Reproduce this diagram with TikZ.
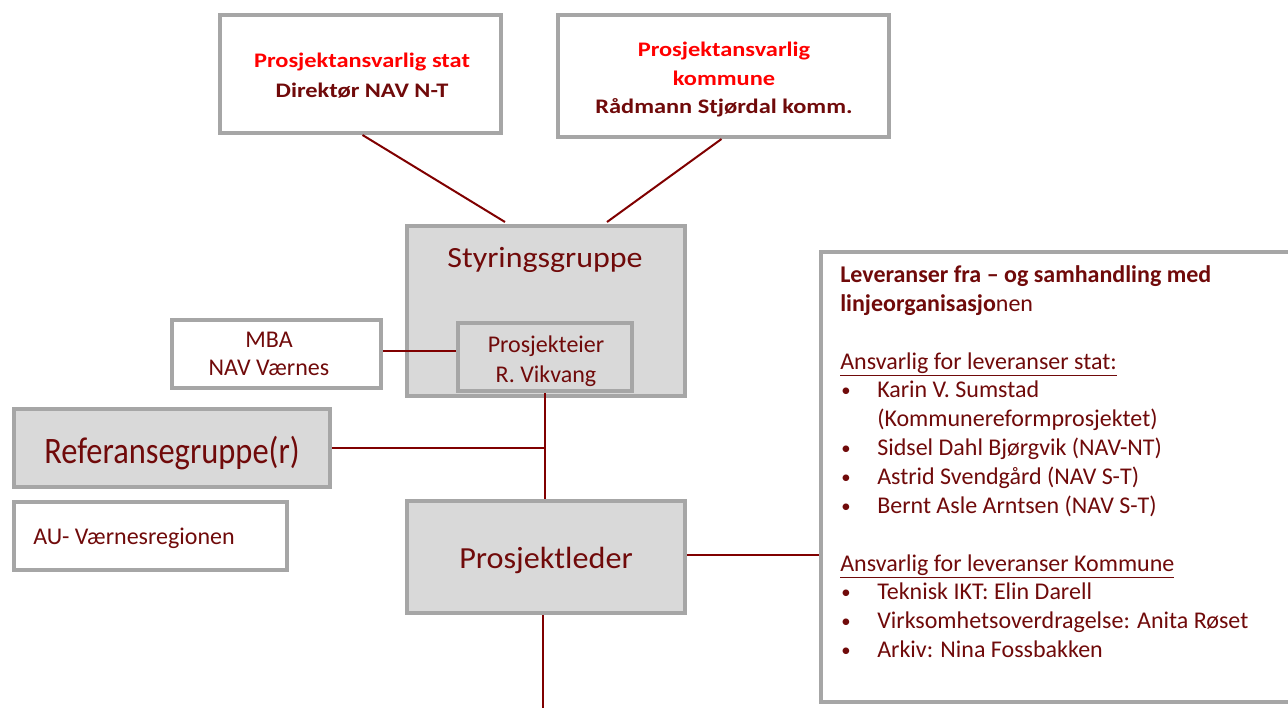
\documentclass[tikz,border=0pt]{standalone}
\usepackage{fontspec}
\setmainfont{Carlito}
\newfontfamily\topfont{Carlito}[FakeStretch=1.18]
\newfontfamily\styfont{Carlito}[FakeStretch=1.09]
\newfontfamily\reffont{Carlito}[FakeStretch=0.87]
\newfontfamily\plfont{Carlito}[FakeStretch=1.05]
\usetikzlibrary{calc}
\definecolor{dred}{RGB}{112,10,10}
\definecolor{lred}{RGB}{128,0,0}
\definecolor{bgray}{RGB}{166,166,166}
\definecolor{fgray}{RGB}{217,217,217}
\begin{document}
\begin{tikzpicture}[x=0.75pt,y=-0.75pt,
  box/.style={draw=bgray,line width=3pt,fill=white,rectangle,inner sep=0pt},
  gbox/.style={box,fill=fgray},
  conn/.style={draw=lred,line width=1.5pt},
  txt/.style={inner sep=0pt,text=dred,anchor=base},
  toptxt/.style={txt,font=\topfont\bfseries\fontsize{15.5}{18}\selectfont},
  midtxt/.style={txt,font=\fontsize{18}{21}\selectfont},
  ltxt/.style={inner sep=0pt,text=dred,anchor=base west,font=\fontsize{18}{21}\selectfont},
  bul/.style={inner sep=0pt,text=dred,anchor=base west,font=\fontsize{14}{16}\selectfont},
]
\clip (0,0) rectangle (1288,708);
\fill[white] (0,0) rectangle (1288,708);
% boxes
\node[box,minimum width=281*0.75pt,minimum height=118*0.75pt] (stat) at (360.5,74) {};
\node[box,minimum width=331*0.75pt,minimum height=122*0.75pt] (kom) at (723.5,76) {};
\node[gbox,minimum width=278*0.75pt,minimum height=170*0.75pt] (sty) at (546,311) {};
\node[gbox,minimum width=174*0.75pt,minimum height=68*0.75pt] (pe) at (545,357) {};
\node[box,minimum width=209*0.75pt,minimum height=68*0.75pt] (mba) at (276.5,354) {};
\node[gbox,minimum width=316*0.75pt,minimum height=78*0.75pt] (ref) at (172,448) {};
\node[box,minimum width=273*0.75pt,minimum height=68*0.75pt] (au) at (150.5,536) {};
\node[gbox,minimum width=278*0.75pt,minimum height=112*0.75pt] (pl) at (546,557) {};
\node[box,minimum width=479*0.75pt,minimum height=450*0.75pt] (lev) at (1060.5,477) {};
% texts
\node[toptxt,text=red] (t1) at (362,67) {Prosjektansvarlig stat};
\node[toptxt] (t2) at (362,97) {Direktør NAV N-T};
\node[toptxt,text=red] (t3) at (724,56) {Prosjektansvarlig};
\node[toptxt,text=red] (t4) at (724,85) {kommune};
\node[toptxt] (t5) at (724,113) {Rådmann Stjørdal komm.};
\node[txt,font=\styfont\fontsize{22}{26}\selectfont] (t6) at (545,267) {Styringsgruppe};
\node[midtxt] (t7) at (546,352) {Prosjekteier};
\node[midtxt] (t8) at (546,382) {R. Vikvang};
\node[midtxt] (t9) at (269,347) {MBA};
\node[midtxt] (t10) at (269,375) {NAV Værnes};
\node[txt,font=\reffont\fontsize{28}{32}\selectfont] (t11) at (172,463) {Referansegruppe(r)};
\node[ltxt] (t12) at (33,544) {AU- Værnesregionen};
\node[txt,font=\plfont\fontsize{23}{26}\selectfont] (t13) at (546,568) {Prosjektleder};
% right box lines
\node[ltxt] (r1) at (840,282) {\textbf{Leveranser fra – og samhandling med}};
\node[ltxt] (r2) at (840,311) {\textbf{linjeorganisasjo}nen};
\node[ltxt] (r3) at (840,369) {\underline{Ansvarlig for leveranser stat:}};
\node[bul] (b1) at (841,396) {•};
\node[ltxt] (r4) at (877,397) {Karin V. Sumstad};
\node[ltxt] (r5) at (877,426) {(Kommunereformprosjektet)};
\node[bul] (b2) at (841,454) {•};
\node[ltxt] (r6) at (877,455) {Sidsel Dahl Bjørgvik (NAV-NT)};
\node[bul] (b3) at (841,483) {•};
\node[ltxt] (r7) at (877,484) {Astrid Svendgård (NAV S-T)};
\node[bul] (b4) at (841,512) {•};
\node[ltxt] (r8) at (877,513) {Bernt Asle Arntsen (NAV S-T)};
\node[ltxt] (r9) at (840,571) {\underline{Ansvarlig for leveranser Kommune}};
\node[bul] (b5) at (841,598) {•};
\node[ltxt] (r10) at (877,599) {Teknisk IKT: Elin Darell};
\node[bul] (b6) at (841,627) {•};
\node[ltxt] (r11) at (877,628) {Virksomhetsoverdragelse: Anita Røset};
\node[bul] (b7) at (841,656) {•};
\node[ltxt] (r12) at (877,657) {Arkiv: Nina Fossbakken};
% connectors
\coordinate (endb) at (543,708);
\draw[conn] ($(stat.south)+(2,0)$) -- ($(sty.north)+(-41,-2)$);
\draw[conn] ($(kom.south)+(-2,0)$) -- ($(sty.north)+(61,-2)$);
\draw[conn] ($(mba.east)+(0,-3)$) -- ($(pe.west)+(0,-6)$);
\draw[conn] (pe.south) -- (pe.south |- pl.north);
\draw[conn] (ref.east) -- (ref.east -| pe.south);
\draw[conn] ($(pl.east)+(0,-2)$) -- ($(lev.west |- pl.east)+(0,-2)$);
\draw[conn] ($(pl.south)+(-3,0)$) -- (endb);
\end{tikzpicture}
\end{document}
